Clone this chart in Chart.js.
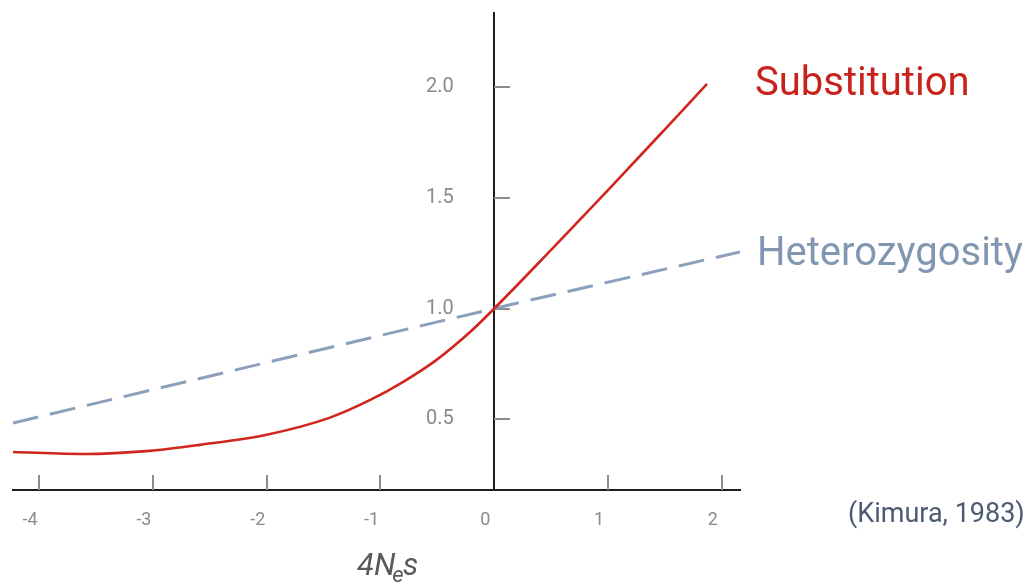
<!DOCTYPE html>
<html><head><meta charset="utf-8">
<script src="https://cdn.jsdelivr.net/npm/chart.js@4.4.1/dist/chart.umd.min.js"></script>
<style>html,body{margin:0;padding:0;background:#fff;} #wrap{width:1030px;height:583px;position:relative;}</style>
</head><body><div id="wrap"><canvas id="c"></canvas></div>
<script>
// Substitution rate curve (4Nes vs relative rate)
const subX = [-4.23, -3.6, -3.03, -2.59, -2.0, -1.45, -1.09, -0.80, -0.51, -0.21, 0, 0.5, 1.0, 1.5, 1.87];
const subY = [0.352, 0.343, 0.357, 0.384, 0.43, 0.506, 0.587, 0.669, 0.767, 0.895, 1.0, 1.265, 1.535, 1.81, 2.015];
// Heterozygosity (dashed line)
const hetX = [-4.23, 0, 2.16];
const hetY = [0.483, 1.0, 1.256];
const xTickValues = [-4, -3, -2, -1, 0, 1, 2];
const yTickValues = [0.5, 1.0, 1.5, 2.0];
const seriesNames = ['Substitution', 'Heterozygosity'];
const citation = '(Kimura, 1983)';
const xMin = -4.23, xMax = 2.16, yMin = 0.18, yMax = 2.34;
const yLabelAnchor = -0.355; // x value where the y tick labels end

const RED = '#d0261d', BLUE = '#8ba0ba';

const decor = {
  id: 'decor',
  beforeDatasetsDraw(chart) {
    const {ctx, chartArea: a, scales: {x, y}} = chart;
    const x0 = Math.round(x.getPixelForValue(0)), yb = y.getPixelForValue(yMin);
    ctx.save();
    // vertical axis line at x = 0
    ctx.strokeStyle = '#1e1e1e'; ctx.lineWidth = 2;
    ctx.beginPath(); ctx.moveTo(x0, a.top); ctx.lineTo(x0, a.bottom); ctx.stroke();
    // tick marks
    ctx.strokeStyle = '#8c8c8c'; ctx.lineWidth = 2;
    xTickValues.forEach(v => {
      if (v === 0) return;
      const px = Math.round(x.getPixelForValue(v));
      ctx.beginPath(); ctx.moveTo(px, yb - 15); ctx.lineTo(px, yb); ctx.stroke();
    });
    yTickValues.forEach(v => {
      const py = Math.round(y.getPixelForValue(v));
      ctx.beginPath(); ctx.moveTo(x0, py); ctx.lineTo(x0 + 16, py); ctx.stroke();
    });
    ctx.restore();
  },
  afterDraw(chart) {
    const {ctx} = chart;
    ctx.save();
    ctx.textAlign = 'left'; ctx.textBaseline = 'alphabetic';
    ctx.font = '40px Roboto';
    ctx.fillStyle = '#c8221c';
    ctx.fillText(seriesNames[0], 755, 95);
    ctx.fillStyle = '#8196b1';
    ctx.fillText(seriesNames[1], 757, 265);
    ctx.font = '27px Roboto';
    ctx.fillStyle = '#4b5b73';
    ctx.fillText(citation, 848, 522);
    // axis title 4N_e s
    ctx.fillStyle = '#5a5a5a';
    let tx = 357;
    ctx.font = 'italic 31px Roboto';
    ctx.fillText('4N', tx, 575);
    tx += ctx.measureText('4N').width - 3;
    ctx.font = 'italic 22px Roboto';
    ctx.fillText('e', tx, 582);
    tx += ctx.measureText('e').width - 1;
    ctx.font = 'italic 31px Roboto';
    ctx.fillText('s', tx, 575);
    ctx.restore();
  }
};

new Chart(document.getElementById('c'), {
  type: 'line',
  data: {
    datasets: [
      {
        label: seriesNames[0],
        data: subX.map((v, i) => ({x: v, y: subY[i]})),
        borderColor: RED, borderWidth: 2.6, pointRadius: 0,
        cubicInterpolationMode: 'monotone', fill: false
      },
      {
        label: seriesNames[1],
        data: hetX.map((v, i) => ({x: v, y: hetY[i]})),
        borderColor: BLUE, borderWidth: 3, pointRadius: 0,
        borderDash: [26, 12], fill: false, tension: 0.2
      }
    ]
  },
  options: {
    responsive: true, maintainAspectRatio: false, animation: false,
    layout: {padding: {left: 13, right: 290, top: 12, bottom: 93}},
    plugins: {legend: {display: false}, tooltip: {enabled: false}},
    scales: {
      x: {
        type: 'linear', min: xMin, max: xMax,
        position: {y: yMin},
        afterBuildTicks: s => { s.ticks = xTickValues.map(v => ({value: v})); },
        grid: {display: false},
        border: {display: true, color: '#1e1e1e', width: 2},
        ticks: {color: '#8a8a8a', font: {family: 'Roboto', size: 18}, padding: 12, labelOffset: -9,
                callback: v => String(v)}
      },
      y: {
        type: 'linear', min: yMin, max: yMax,
        position: {x: yLabelAnchor},
        afterBuildTicks: s => { s.ticks = yTickValues.map(v => ({value: v})); },
        grid: {display: false},
        border: {display: false},
        ticks: {color: '#8a8a8a', font: {family: 'Roboto', size: 20}, padding: 0,
                callback: v => Number(v).toFixed(1)}
      }
    }
  },
  plugins: [decor]
});
</script>
</body></html>
